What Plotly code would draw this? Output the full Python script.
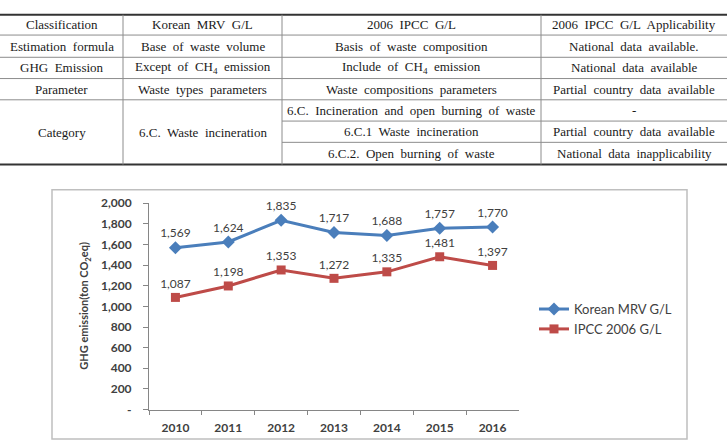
import plotly.graph_objects as go

W, H = 727, 447

# ---- data ----
years = ["2010", "2011", "2012", "2013", "2014", "2015", "2016"]
korean_mrv = [1569, 1624, 1835, 1717, 1688, 1757, 1770]
ipcc_2006 = [1087, 1198, 1353, 1272, 1335, 1481, 1397]
y_tickvals = [0, 200, 400, 600, 800, 1000, 1200, 1400, 1600, 1800, 2000]
y_ticktext = ["-", "200", "400", "600", "800", "1,000", "1,200", "1,400", "1,600", "1,800", "2,000"]
series_names = ["Korean MRV G/L", "IPCC 2006 G/L"]
y_title = "GHG emission(ton CO<sub>2</sub>eq)"

table_header = ["Classification", "Korean  MRV  G/L", "2006  IPCC  G/L", "2006  IPCC  G/L  Applicability"]
table_rows = [
    ["Estimation  formula", "Base  of  waste  volume", "Basis  of  waste  composition", "National  data  available."],
    ["GHG  Emission", "Except  of  CH<sub>4</sub>  emission", "Include  of  CH<sub>4</sub>  emission", "National  data  available"],
    ["Parameter", "Waste  types  parameters", "Waste  compositions  parameters", "Partial  country  data  available"],
]
category_label = ["Category", "6.C.  Waste  incineration"]
category_sub = [
    ["6.C.  Incineration  and  open  burning  of  waste", "-"],
    ["6.C.1  Waste  incineration", "Partial  country  data  available"],
    ["6.C.2.  Open  burning  of  waste", "National  data  inapplicability"],
]

def px(x):
    return x / W

def py(y):
    return 1 - y / H

def sp(s):
    return s.replace("  ", "\u00a0 ")

fig = go.Figure()
blue = "#4A7EBB"
red = "#BE4B48"
fig.add_trace(go.Scatter(
    x=years, y=korean_mrv, name=series_names[0], mode="lines+markers+text",
    line=dict(color=blue, width=3), marker=dict(symbol="diamond", size=10, color=blue),
    text=[f"{v:,}" for v in korean_mrv], textposition="top center", cliponaxis=False,
    textfont=dict(family="Lato", size=12, color="#404040"),
))
fig.add_trace(go.Scatter(
    x=years, y=ipcc_2006, name=series_names[1], mode="lines+markers+text",
    line=dict(color=red, width=3), marker=dict(symbol="square", size=9, color=red),
    text=[f"{v:,}" for v in ipcc_2006], textposition="top center", cliponaxis=False,
    textfont=dict(family="Lato", size=12, color="#404040"),
))

axis_col = "#868686"
fig.update_layout(
    width=W, height=H, margin=dict(l=0, r=0, t=0, b=0), autosize=False,
    paper_bgcolor="white", plot_bgcolor="white",
    xaxis=dict(domain=[px(149), px(519)], type="category", range=[-0.5, 6.5],
               showline=True, linecolor=axis_col, linewidth=1, showgrid=False,
               ticks="outside", tickson="boundaries", ticklen=4, tickcolor=axis_col,
               ticklabelstandoff=7,
               tickfont=dict(family="Lato", size=12, color="#404040", weight="bold")),
    yaxis=dict(domain=[py(415.5), py(202)], range=[0, 2000],
               tickvals=y_tickvals, ticktext=y_ticktext,
               showline=True, linecolor=axis_col, linewidth=1, showgrid=False, zeroline=False,
               ticks="outside", ticklen=5, tickcolor=axis_col,
               ticklabelstandoff=9,
               tickfont=dict(family="Lato", size=12, color="#404040", weight="bold")),
    legend=dict(x=px(534), y=py(296), xanchor="left", yanchor="top",
                font=dict(family="Lato", size=13, color="#404040"),
                itemwidth=30, bgcolor="rgba(0,0,0,0)", tracegroupgap=0),
    showlegend=True,
)

shapes = []
annots = []
# chart frame
shapes.append(dict(type="rect", xref="paper", yref="paper", x0=px(52), x1=px(687), y0=py(446), y1=py(188),
                   line=dict(color="#BFBFBF", width=1.5)))
annots.append(dict(text="<b>" + y_title + "</b>", x=px(85), y=py(308), xref="paper", yref="paper",
                   xanchor="center", yanchor="middle",
                   showarrow=False, textangle=-90, font=dict(family="Lato", size=11, color="#404040")))

# ---- table ----
col_x = [0, 123, 282, 541, 727]
row_y = [7, 28, 51, 73, 95, 117, 139, 162]
thin = dict(color="#8C8C8C", width=1)
thick = dict(color="#333333", width=2)
def hline(x0, x1, y, line):
    shapes.append(dict(type="line", xref="paper", yref="paper", x0=px(x0), x1=px(x1), y0=py(y), y1=py(y), line=line))
def vline(x, y0, y1, line):
    shapes.append(dict(type="line", xref="paper", yref="paper", x0=px(x), x1=px(x), y0=py(y0), y1=py(y1), line=line))

hline(0, W, row_y[0], thick)
hline(0, W, row_y[-1], thick)
for y in row_y[1:5]:
    hline(0, W, y, thin)
for y in row_y[5:7]:
    hline(col_x[2], W, y, thin)
for x in col_x[1:4]:
    vline(x, row_y[0], row_y[-1], thin)

tfont = dict(family="Liberation Serif", size=13, color="#1a1a1a")
def cell(text, ci, y):
    annots.append(dict(text=sp(text), x=px((col_x[ci] + col_x[ci + 1]) / 2), y=py(y), xref="paper", yref="paper",
                       showarrow=False, font=tfont, xanchor="center", yanchor="middle"))

all_rows = [table_header] + table_rows
for ri, row in enumerate(all_rows):
    yc = (row_y[ri] + row_y[ri + 1]) / 2
    for ci, t in enumerate(row):
        cell(t, ci, yc)
ym = (row_y[4] + row_y[7]) / 2
cell(category_label[0], 0, ym)
cell(category_label[1], 1, ym)
for si, row in enumerate(category_sub):
    yc = (row_y[4 + si] + row_y[5 + si]) / 2
    cell(row[0], 2, yc)
    cell(row[1], 3, yc)

fig.update_layout(shapes=shapes, annotations=annots)
fig.write_html("out.html")
